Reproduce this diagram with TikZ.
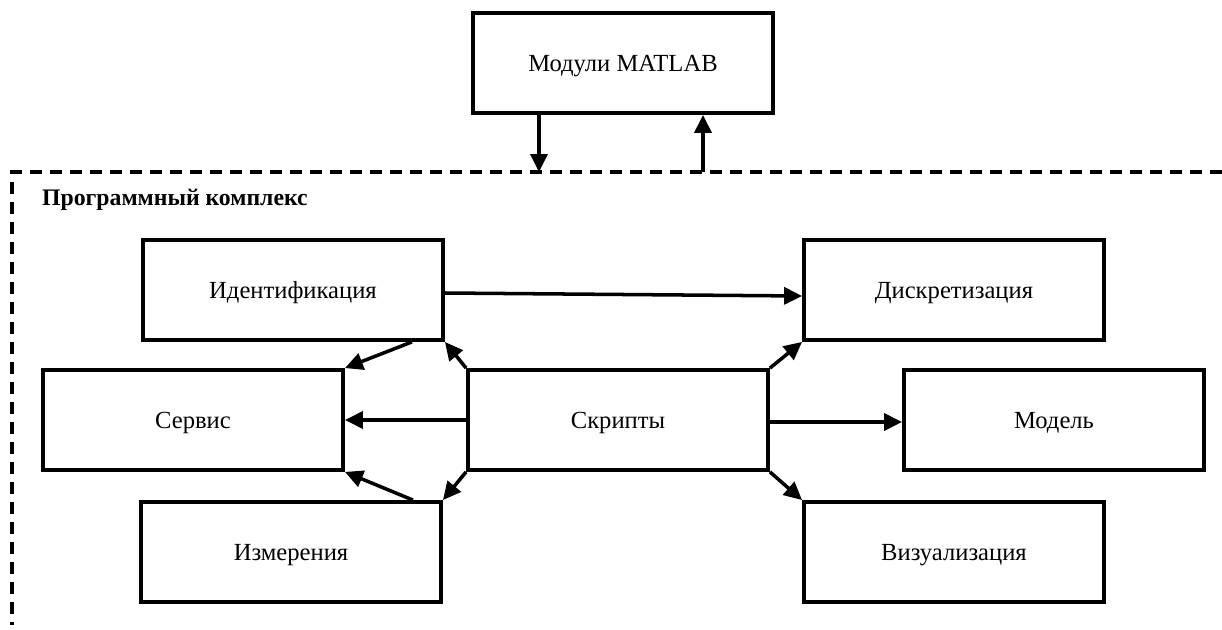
\documentclass[tikz,border=0pt]{standalone}
\usepackage{fontspec}
\setmainfont{Liberation Serif}
\usetikzlibrary{arrows.meta,positioning,calc}

\begin{document}
\begin{tikzpicture}[x=0.2mm,y=-0.2mm,
  blk/.style={draw,line width=2.2pt,minimum width=6cm,minimum height=2cm,
    inner sep=0pt,text depth=0pt,font=\fontsize{14}{16}\selectfont},
  link/.style={line width=2pt,-{Triangle[length=3.6mm,width=3.4mm]}},
  frame/.style={line width=2.2pt,dash pattern=on 2.4mm off 1.6mm}]
  \useasboundingbox (0,0) rectangle (1222,630);

  % ===== MATLAB =====
  \node[blk] (matlab) at (623,63) {Модули MATLAB};

  % ===== Program complex frame =====
  \draw[frame] (1222,172) -- (12,172) -- (12,625);
  \node[anchor=west,font=\fontsize{13.5}{16}\selectfont\bfseries] (title) at (36,200) {Программный комплекс};
  \coordinate (inpt) at (539,172);
  \coordinate (outpt) at (703,172);

  % ===== Blocks =====
  \node[blk] (ident) at (293,290) {Идентификация};
  \node[blk] (discr) at (954,290) {Дискретизация};
  \node[blk] (serv)  at (193,420) {Сервис};
  \node[blk] (scr)   at (618,420) {Скрипты};
  \node[blk] (model) at (1054,420) {Модель};
  \node[blk] (izm)   at (291,552) {Измерения};
  \node[blk] (vis)   at (954,552) {Визуализация};

  % --- MATLAB links ---
  \draw[link] (matlab.south -| inpt) -- (inpt);
  \draw[link] (outpt) -- (matlab.south -| outpt);

  % --- Left side ---
  \draw[link] ([yshift=-0.06cm]ident.east) -- ([yshift=-0.12cm]discr.west);
  \draw[link] ([xshift=-0.66cm]ident.south east) -- (serv.north east);
  \draw[link] (scr.north west) -- (ident.south east);
  \draw[link] (scr.west) -- (serv.east);
  \draw[link] (scr.south west) -- (izm.north east);
  \draw[link] ([xshift=-0.6cm]izm.north east) -- (serv.south east);

  % --- Right side ---
  \draw[link] (scr.north east) -- (discr.south west);
  \draw[link] ([yshift=-0.04cm]scr.east) -- ([yshift=-0.04cm]model.west);
  \draw[link] (scr.south east) -- (vis.north west);
\end{tikzpicture}
\end{document}
